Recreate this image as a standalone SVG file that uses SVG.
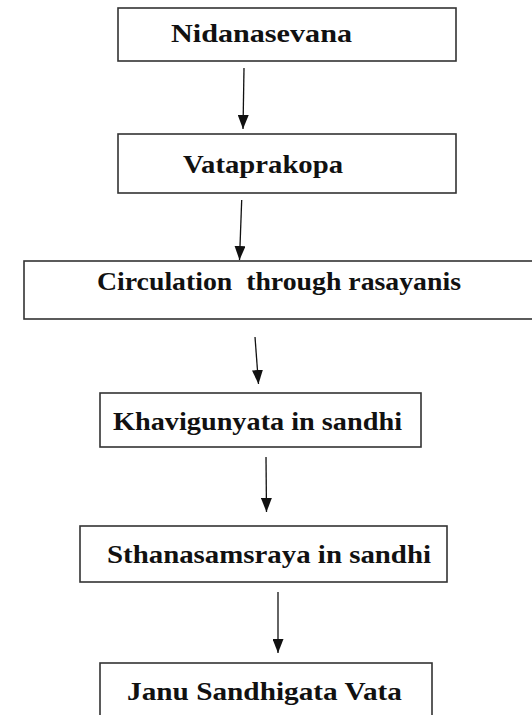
<svg xmlns="http://www.w3.org/2000/svg" width="532" height="715" viewBox="0 0 532 715">
<style>
.box{fill:#fff;stroke:#333;stroke-width:1.6}
.lbl{font-family:"Liberation Serif","Times New Roman",serif;font-weight:bold;font-size:26px;fill:#111}
.conn{stroke:#111;stroke-width:1.3;fill:none;marker-end:url(#ah)}
</style>
<defs>
<marker id="ah" markerUnits="userSpaceOnUse" markerWidth="14" markerHeight="11" refX="14" refY="5.5" orient="auto">
<path d="M0,0 L14,5.5 L0,11 z" fill="#111"/>
</marker>
</defs>
<rect width="532" height="715" fill="#fff"/>
<g id="n1"><rect class="box" x="118" y="8" width="338" height="53"/><text class="lbl" x="171" y="42" textLength="181" lengthAdjust="spacingAndGlyphs">Nidanasevana</text></g>
<g id="n2"><rect class="box" x="118" y="134" width="338" height="59"/><text class="lbl" x="183" y="172.5" textLength="160" lengthAdjust="spacingAndGlyphs">Vataprakopa</text></g>
<g id="n3"><rect class="box" x="24" y="261" width="520" height="58"/><text class="lbl" x="97" y="289.5" textLength="364" lengthAdjust="spacingAndGlyphs" xml:space="preserve">Circulation  through rasayanis</text></g>
<g id="n4"><rect class="box" x="100" y="393" width="321" height="54"/><text class="lbl" x="113" y="429.5" textLength="289" lengthAdjust="spacingAndGlyphs">Khavigunyata in sandhi</text></g>
<g id="n5"><rect class="box" x="80" y="526" width="367" height="56"/><text class="lbl" x="107" y="562.5" textLength="324" lengthAdjust="spacingAndGlyphs">Sthanasamsraya in sandhi</text></g>
<g id="n6"><rect class="box" x="100" y="663" width="332" height="70"/><text class="lbl" x="127" y="700" textLength="275" lengthAdjust="spacingAndGlyphs">Janu Sandhigata Vata</text></g>
<g id="connectors">
<line class="conn" x1="244" y1="68" x2="243" y2="129"/>
<line class="conn" x1="241.7" y1="200" x2="239.5" y2="260"/>
<line class="conn" x1="255" y1="337" x2="258.5" y2="384"/>
<line class="conn" x1="266" y1="457" x2="266.5" y2="512"/>
<line class="conn" x1="278" y1="592" x2="278" y2="653"/>
</g>
</svg>
